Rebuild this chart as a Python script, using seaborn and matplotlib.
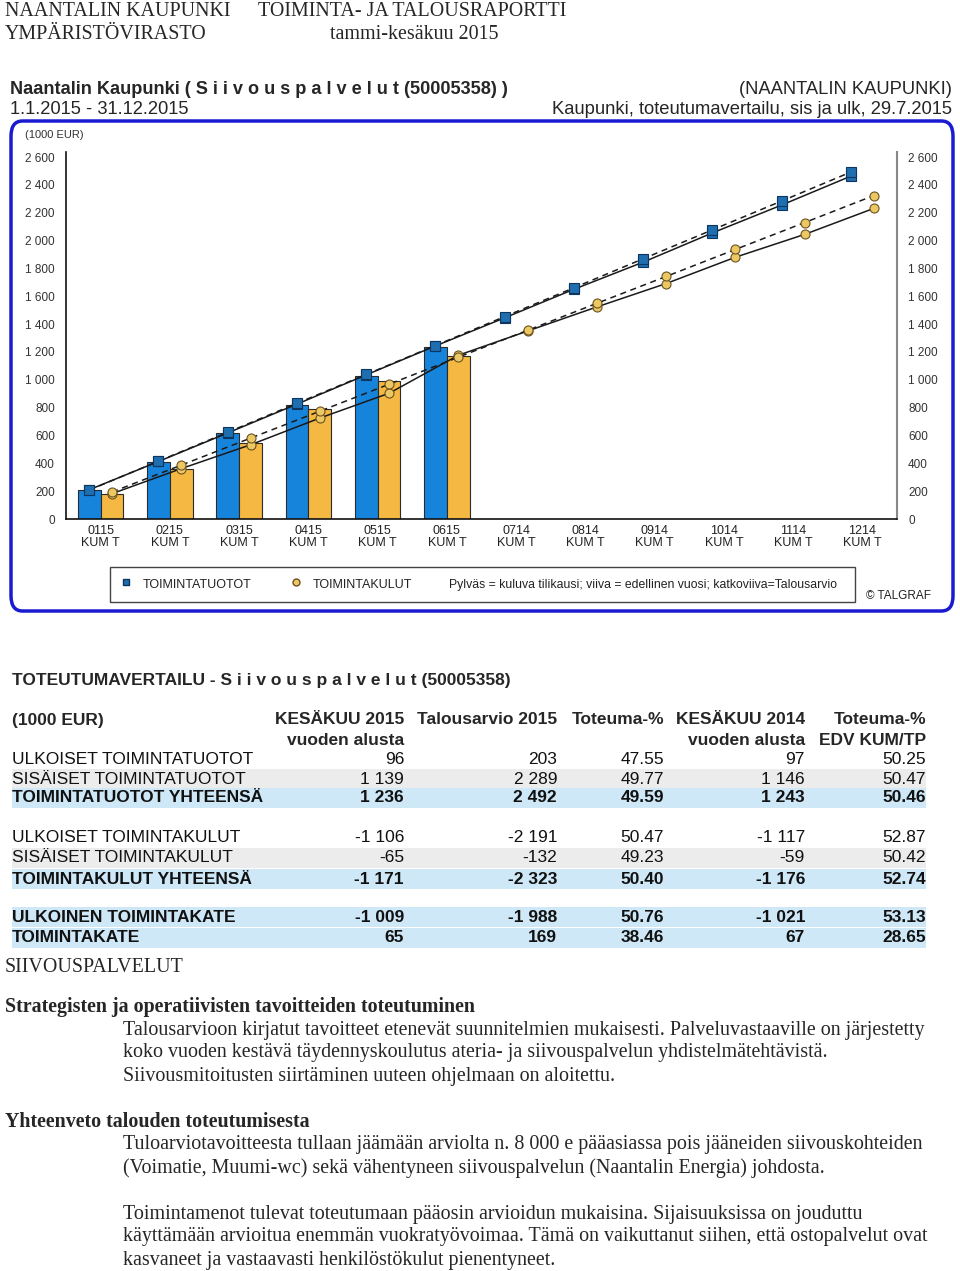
import numpy as np
import pandas as pd
import seaborn as sns
import matplotlib.pyplot as plt
from matplotlib import font_manager
from matplotlib.patches import FancyBboxPatch, Rectangle
from matplotlib.lines import Line2D
from matplotlib.ticker import FuncFormatter

sns.set_style("white")
plt.rcParams["font.family"] = ["Liberation Sans", "DejaVu Sans"]

# chart data (1000 EUR, cumulative)
kuukaudet = ["0115", "0215", "0315", "0415", "0515", "0615",
             "0714", "0814", "0914", "1014", "1114", "1214"]
tuotot_2015 = [207, 411, 615, 821, 1028, 1236]
kulut_2015 = [178, 358, 545, 792, 989, 1171]
tuotot_2014 = [210, 413, 618, 825, 1035, 1243, 1445, 1650, 1845, 2055, 2255, 2463]
kulut_2014 = [182, 362, 533, 725, 903, 1176, 1350, 1523, 1691, 1880, 2044, 2231]
tuotot_ta = [208, 415, 623, 831, 1038, 1246, 1454, 1661, 1869, 2077, 2284, 2492]
kulut_ta = [194, 387, 581, 774, 968, 1162, 1355, 1549, 1742, 1936, 2129, 2323]

# table data
rivit = ["ULKOISET TOIMINTATUOTOT", "SISÄISET TOIMINTATUOTOT", "TOIMINTATUOTOT YHTEENSÄ",
         "ULKOISET TOIMINTAKULUT", "SISÄISET TOIMINTAKULUT", "TOIMINTAKULUT YHTEENSÄ",
         "ULKOINEN TOIMINTAKATE", "TOIMINTAKATE"]
kesakuu_2015 = ["96", "1 139", "1 236", "-1 106", "-65", "-1 171", "-1 009", "65"]
talousarvio_2015 = ["203", "2 289", "2 492", "-2 191", "-132", "-2 323", "-1 988", "169"]
toteuma_pct = ["47.55", "49.77", "49.59", "50.47", "49.23", "50.40", "50.76", "38.46"]
kesakuu_2014 = ["97", "1 146", "1 243", "-1 117", "-59", "-1 176", "-1 021", "67"]
toteuma_edv = ["50.25", "50.47", "50.46", "52.87", "50.42", "52.74", "53.13", "28.65"]
otsikot1 = ["KESÄKUU 2015", "Talousarvio 2015", "Toteuma-%", "KESÄKUU 2014", "Toteuma-%"]
otsikot2 = ["vuoden alusta", "", "", "vuoden alusta", "EDV KUM/TP"]

# condensed font for the chart labels if it is there
fontit = {f.name for f in font_manager.fontManager.ttflist}
if "Liberation Sans Narrow" in fontit:
    kapea, kapea_koko = ["Liberation Sans Narrow", "DejaVu Sans"], 9.5
else:
    kapea, kapea_koko = ["Liberation Sans", "DejaVu Sans"], 8.5

W, H = 960, 1271
fig = plt.figure(figsize=(W / 100, H / 100), dpi=100)


def fx(x):
    return x / W


def fy(y):
    return 1 - y / H


def txt(x, y, s, **kw):
    kw.setdefault("va", "center")
    fig.text(fx(x), fy(y), s, **kw)


serif = ["Liberation Serif", "DejaVu Serif"]
sk = 14.4  # serif text size

# page header
txt(5, 16, "NAANTALIN KAUPUNKI", family=serif, fontsize=sk, va="baseline")
txt(258, 16, "TOIMINTA- JA TALOUSRAPORTTI", family=serif, fontsize=sk, va="baseline")
txt(5, 39, "YMPÄRISTÖVIRASTO", family=serif, fontsize=sk, va="baseline")
txt(330, 39, "tammi-kesäkuu 2015", family=serif, fontsize=sk, va="baseline")

# chart titles
txt(10, 89, "Naantalin Kaupunki ( S i i v o u s p a l v e l u t (50005358) )",
    fontsize=13.1, fontweight="bold")
txt(10, 110, "1.1.2015 - 31.12.2015", fontsize=13.2)
txt(952, 89, "(NAANTALIN KAUPUNKI)", fontsize=13.2, ha="right")
txt(952, 110, "Kaupunki, toteutumavertailu, sis ja ulk, 29.7.2015", fontsize=13.2, ha="right")

# rounded frame
fig.add_artist(FancyBboxPatch((fx(11), fy(611)), fx(942), 490 / H,
                              boxstyle="round,pad=0,rounding_size=0.012",
                              transform=fig.transFigure, fill=False,
                              edgecolor="#1a1ad0", linewidth=2.5))
txt(25, 135, "(1000 EUR)", family=kapea, fontsize=kapea_koko - 0.5, color="#333333")

# chart axes
ax = fig.add_axes([fx(66), fy(519), fx(897 - 66), (519 - 152) / H])

df = pd.DataFrame({
    "kk": kuukaudet[:6] * 2,
    "sarja": ["TOIMINTATUOTOT"] * 6 + ["TOIMINTAKULUT"] * 6,
    "arvo": tuotot_2015 + kulut_2015,
})
sns.barplot(data=df, x="kk", y="arvo", hue="sarja", order=kuukaudet,
            hue_order=["TOIMINTATUOTOT", "TOIMINTAKULUT"],
            palette=["#1784dc", "#f5b843"], saturation=1, width=0.66, errorbar=None,
            edgecolor="#2b2b2b", linewidth=0.8, legend=False, ax=ax)

pos = np.arange(len(kuukaudet))
off = 0.165
sq = dict(marker="s", ms=6.5, mfc="#1f6eb0", mec="#0c3560", mew=0.8)
ci = dict(marker="o", ms=6.5, mfc="#ecc865", mec="#6b5220", mew=0.8)
ax.plot(pos - off, tuotot_2014, color="#1a1a1a", lw=1.1, zorder=4, **sq)
ax.plot(pos - off, tuotot_ta, color="#1a1a1a", lw=1.1, ls=(0, (4, 3)), zorder=4, **sq)
ax.plot(pos + off, kulut_2014, color="#1a1a1a", lw=1.1, zorder=4, **ci)
ax.plot(pos + off, kulut_ta, color="#1a1a1a", lw=1.1, ls=(0, (4, 3)), zorder=4, **ci)

ax.set_xlim(-0.5, 11.5)
ax.set_ylim(0, 2636)
ax.set_yticks(np.arange(0, 2601, 200))
ax.yaxis.set_major_formatter(FuncFormatter(lambda v, p: f"{int(v):,}".replace(",", " ")))
ax.set_xticks(pos)
ax.set_xticklabels([k + "\nKUM T" for k in kuukaudet], family=kapea,
                   fontsize=kapea_koko + 0.5, color="#222222", linespacing=1.1)
ax.set_xticks(np.arange(-0.5, 12, 1), minor=True)
ax.tick_params(axis="x", which="major", length=0, pad=4)
ax.tick_params(axis="x", which="minor", length=9, direction="inout", width=1.2, color="#111111")
ax.tick_params(axis="y", length=0, labelsize=kapea_koko, labelcolor="#333333", pad=8,
               labelleft=True, labelright=True)
for lab in ax.get_yticklabels():
    lab.set_family(kapea)
ax.set_xlabel("")
ax.set_ylabel("")
ax.spines["top"].set_visible(False)
ax.spines["left"].set_color("#111111")
ax.spines["bottom"].set_color("#111111")
ax.spines["right"].set_color("#888888")
ax.spines["left"].set_linewidth(1.2)
ax.spines["bottom"].set_linewidth(1.2)
ax.spines["right"].set_linewidth(1.5)

# legend box
fig.add_artist(Rectangle((fx(110), fy(602)), fx(855 - 110), 35 / H, transform=fig.transFigure,
                         fill=False, edgecolor="#444444", linewidth=1))
fig.add_artist(Line2D([fx(126)], [fy(582)], transform=fig.transFigure, ls="none",
                      marker="s", ms=5, mfc="#1f6eb0", mec="#0c3560"))
txt(143, 585, "TOIMINTATUOTOT", family=kapea, fontsize=kapea_koko + 0.5, color="#222222")
fig.add_artist(Line2D([fx(296)], [fy(582)], transform=fig.transFigure, ls="none",
                      marker="o", ms=5, mfc="#ecc865", mec="#6b5220"))
txt(313, 585, "TOIMINTAKULUT", family=kapea, fontsize=kapea_koko + 0.5, color="#222222")
txt(449, 585, "Pylväs = kuluva tilikausi; viiva = edellinen vuosi; katkoviiva=Talousarvio",
    family=kapea, fontsize=kapea_koko + 0.3, color="#222222")
txt(866, 596, "© TALGRAF", family=kapea, fontsize=kapea_koko, color="#222222")

# table
tk = 12.5
txt(12, 681, "TOTEUTUMAVERTAILU - S i i v o u s p a l v e l u t (50005358)",
    fontsize=tk, fontweight="bold")
txt(12, 720, "(1000 EUR)", fontsize=tk, fontweight="bold")
sarake_x = [404, 557, 664, 805, 926]
for xr, o1, o2 in zip(sarake_x, otsikot1, otsikot2):
    txt(xr, 720, o1, fontsize=tk, fontweight="bold", ha="right")
    if o2:
        txt(xr, 740, o2, fontsize=tk, fontweight="bold", ha="right")

rivi_y = [760, 779, 798, 838, 858, 879, 917, 938]
tausta = [None, "#ececec", "#cfe8f8", None, "#ececec", "#cfe8f8", "#cfe8f8", "#cfe8f8"]
lihava = [False, False, True, False, False, True, True, True]
for yy, bg in zip(rivi_y, tausta):
    if bg:
        fig.add_artist(Rectangle((fx(12), fy(yy + 10)), fx(926 - 12), 20 / H,
                                 transform=fig.transFigure, facecolor=bg,
                                 edgecolor="none", zorder=-1))
sarakkeet = [kesakuu_2015, talousarvio_2015, toteuma_pct, kesakuu_2014, toteuma_edv]
for i, (nimi, yy) in enumerate(zip(rivit, rivi_y)):
    fw = "bold" if lihava[i] else "normal"
    txt(12, yy, nimi, fontsize=tk, fontweight=fw, color="#111111")
    for xr, col in zip(sarake_x, sarakkeet):
        txt(xr, yy, col[i], fontsize=tk, fontweight=fw, ha="right", color="#111111")

# report text
txt(5, 967, "SIIVOUSPALVELUT", family=serif, fontsize=sk)
txt(5, 1007, "Strategisten ja operatiivisten tavoitteiden toteutuminen",
    family=serif, fontsize=sk, fontweight="bold")
kappale1 = ["Talousarvioon kirjatut tavoitteet etenevät suunnitelmien mukaisesti. Palveluvastaaville on järjestetty",
            "koko vuoden kestävä täydennyskoulutus ateria- ja siivouspalvelun yhdistelmätehtävistä.",
            "Siivousmitoitusten siirtäminen uuteen ohjelmaan on aloitettu."]
for yy, s in zip([1030, 1053, 1076], kappale1):
    txt(123, yy, s, family=serif, fontsize=sk)
txt(5, 1122, "Yhteenveto talouden toteutumisesta", family=serif, fontsize=sk, fontweight="bold")
kappale2 = ["Tuloarviotavoitteesta tullaan jäämään arviolta n. 8 000 e pääasiassa pois jääneiden siivouskohteiden",
            "(Voimatie, Muumi-wc) sekä vähentyneen siivouspalvelun (Naantalin Energia) johdosta.",
            "",
            "Toimintamenot tulevat toteutumaan pääosin arvioidun mukaisina. Sijaisuuksissa on jouduttu",
            "käyttämään arvioitua enemmän vuokratyövoimaa. Tämä on vaikuttanut siihen, että ostopalvelut ovat",
            "kasvaneet ja vastaavasti henkilöstökulut pienentyneet."]
for yy, s in zip([1145, 1168, 1191, 1214, 1237, 1260], kappale2):
    if s:
        txt(123, yy, s, family=serif, fontsize=sk)

fig.savefig("out.png", dpi=100)
